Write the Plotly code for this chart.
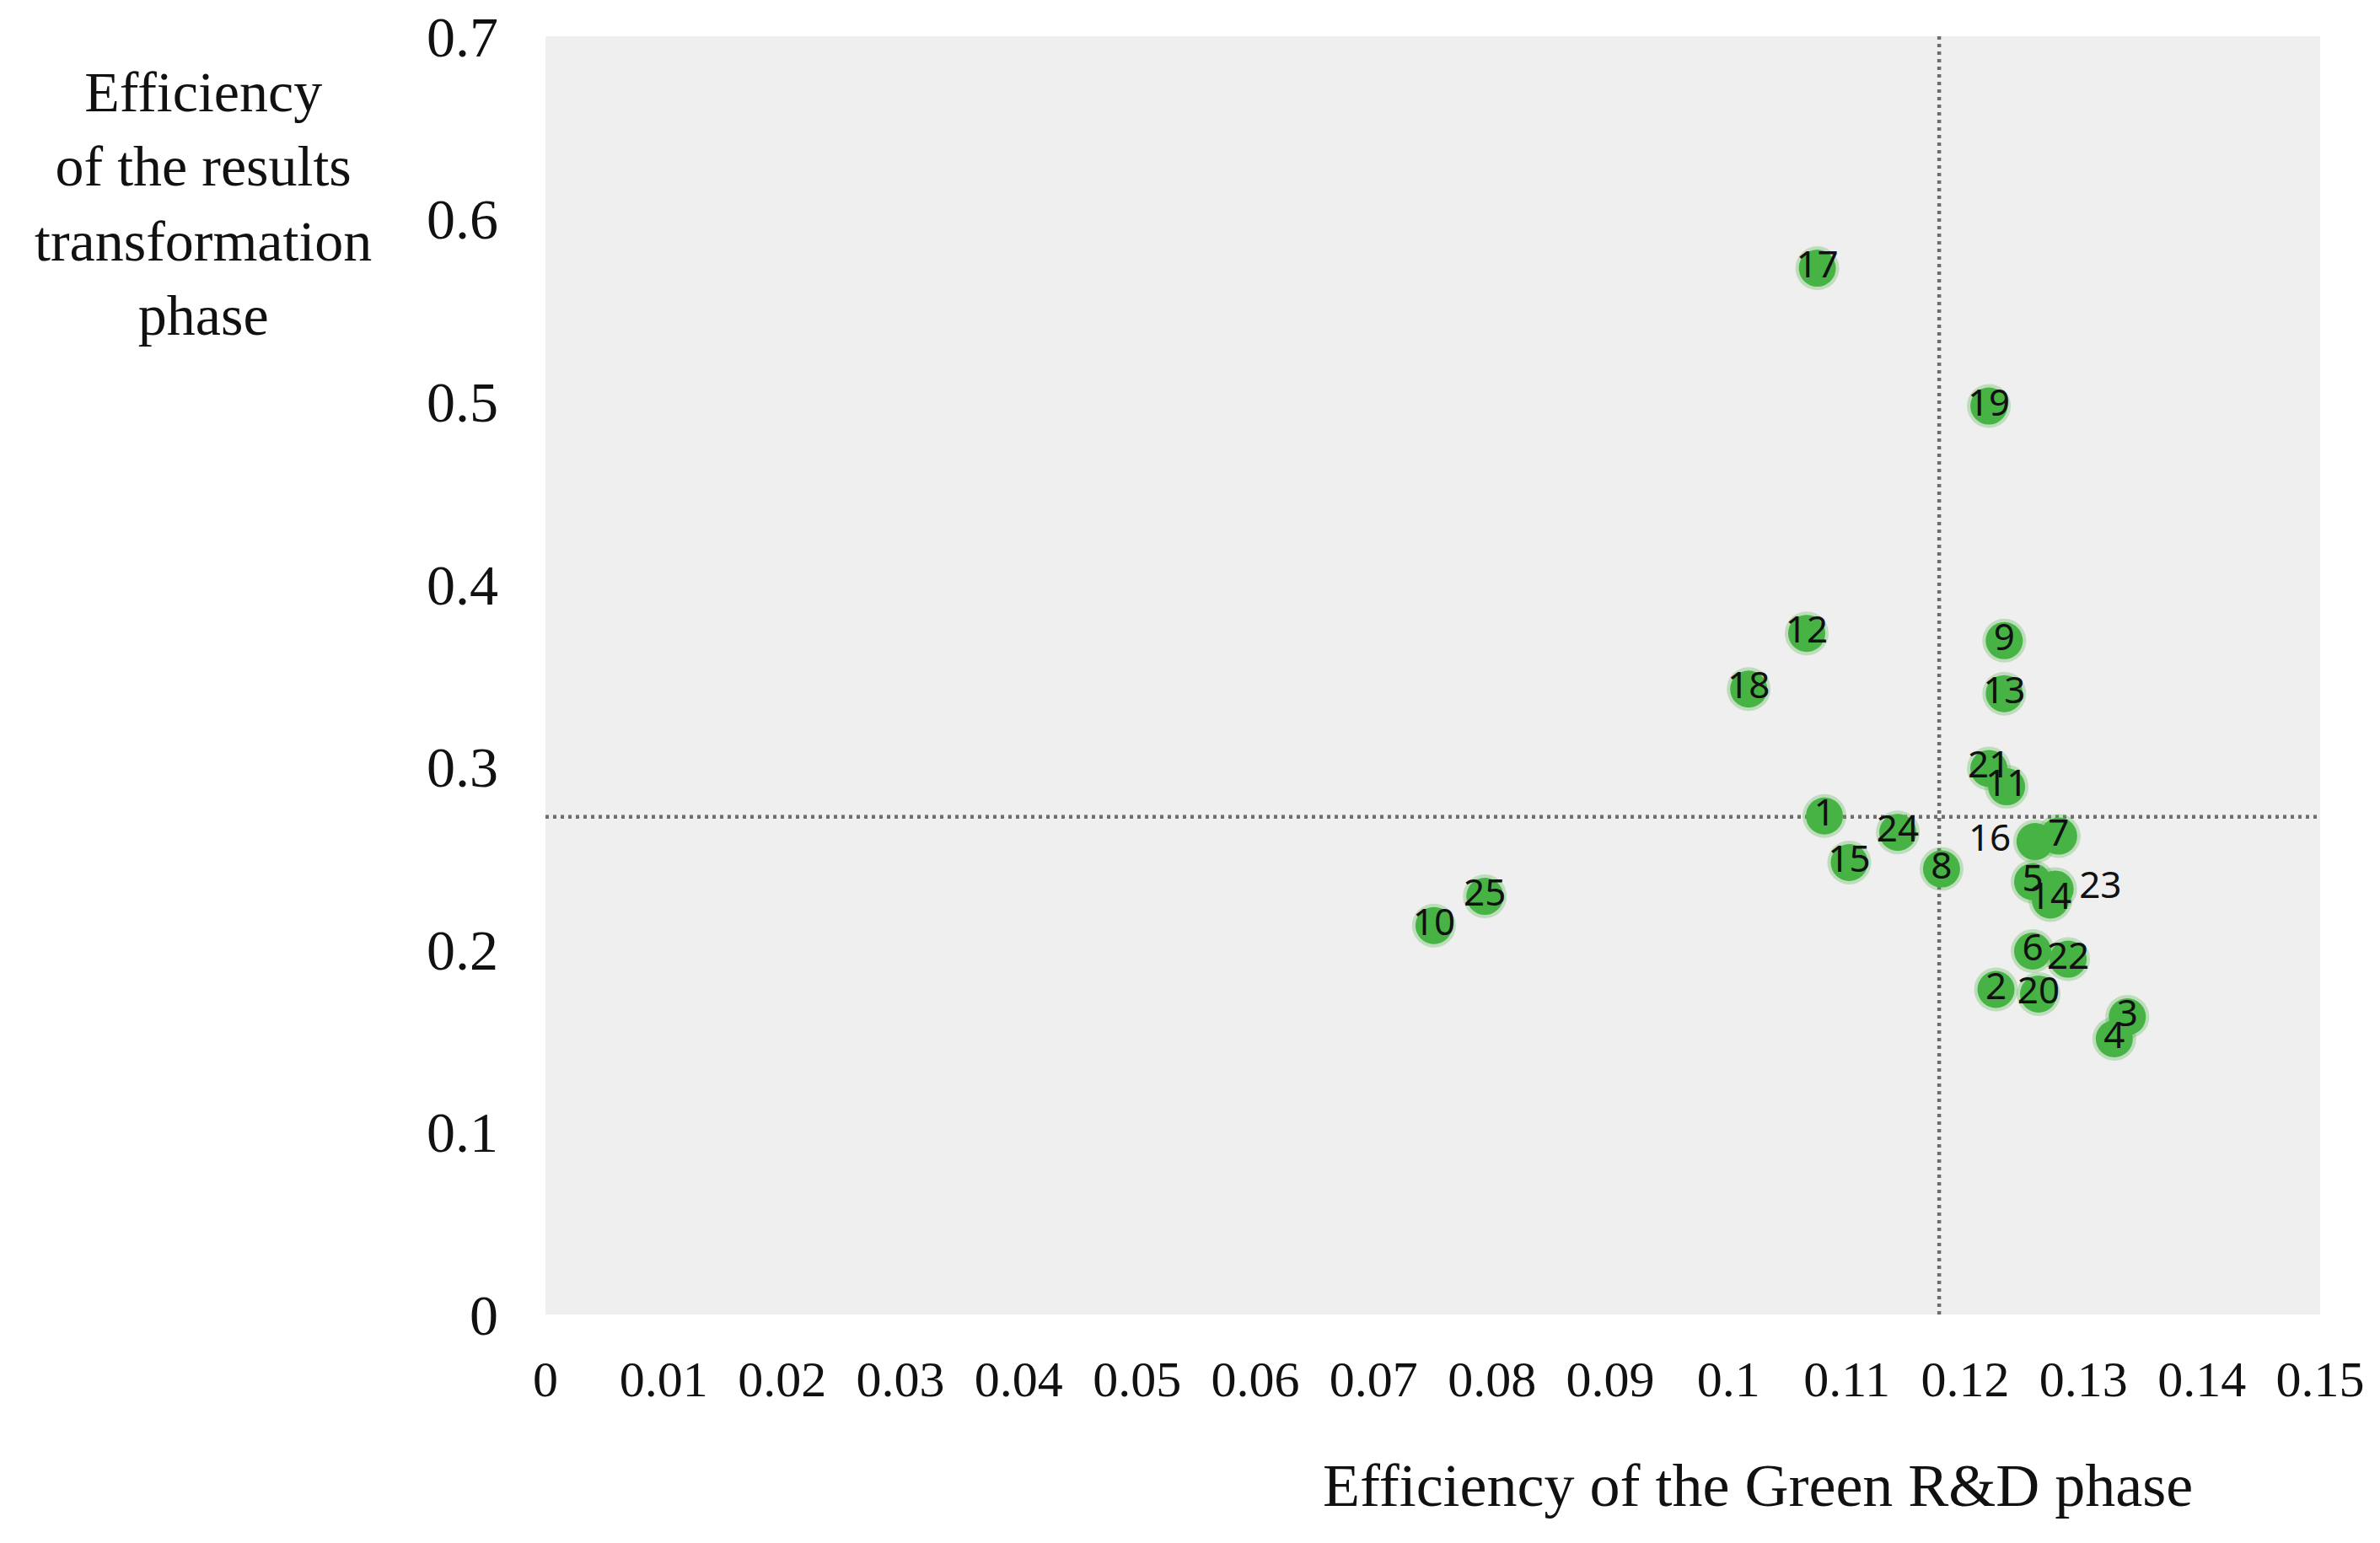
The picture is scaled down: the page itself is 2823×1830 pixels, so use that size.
import plotly.graph_objects as go

ids = ["1","2","3","4","5","6","7","8","9","10","11","12","13","14","15","16","17","18","19","20","21","22","23","24","25"]
green_rd = [0.1081,0.1226,0.1337,0.1326,0.1257,0.1257,0.1279,0.1180,0.1233,0.0751,0.1235,0.1066,0.1233,0.1272,0.1102,0.1259,0.1075,0.1017,0.1220,0.1262,0.1220,0.1287,0.1276,0.1143,0.0794]
transform = [0.273,0.178,0.163,0.151,0.237,0.199,0.262,0.244,0.369,0.213,0.289,0.373,0.340,0.227,0.2475,0.259,0.573,0.3425,0.4975,0.1755,0.299,0.1946,0.233,0.264,0.229]
label_pos = ["middle center"] * 25
label_pos[15] = "middle left"   # 16
label_pos[22] = "middle right"  # 23

mean_x = 0.1178
mean_y = 0.2725

x_ticks = [0,0.01,0.02,0.03,0.04,0.05,0.06,0.07,0.08,0.09,0.1,0.11,0.12,0.13,0.14,0.15]
x_tick_text = ["0","0.01","0.02","0.03","0.04","0.05","0.06","0.07","0.08","0.09","0.1","0.11","0.12","0.13","0.14","0.15"]
y_ticks = [0,0.1,0.2,0.3,0.4,0.5,0.6,0.7]
y_tick_text = ["0","0.1","0.2","0.3","0.4","0.5","0.6","0.7"]

fig = go.Figure()
# soft halo for blurred marker edges
fig.add_trace(go.Scatter(x=green_rd, y=transform, mode="markers",
                         marker=dict(size=52, color="rgba(72,180,70,0.30)", line=dict(width=0)),
                         hoverinfo="skip", showlegend=False))
fig.add_trace(go.Scatter(x=green_rd, y=transform, mode="markers+text",
                         marker=dict(size=44, color="#48b345", line=dict(width=0)),
                         text=ids, textposition=label_pos,
                         textfont=dict(family="Noto Sans, Liberation Sans, sans-serif", size=44, color="#111111"),
                         cliponaxis=False, showlegend=False))

fig.add_shape(type="line", xref="x", yref="y", x0=mean_x, x1=mean_x, y0=0, y1=0.7,
              line=dict(color="#6e6e6e", width=4.5, dash="4px,5px"), layer="below")
fig.add_shape(type="line", xref="x", yref="y", x0=0, x1=0.15, y0=mean_y, y1=mean_y,
              line=dict(color="#6e6e6e", width=4.5, dash="4px,5px"), layer="below")

fig.update_layout(
    width=2815, height=1822,
    margin=dict(l=639, r=71, t=35, b=271),
    paper_bgcolor="white", plot_bgcolor="#efefef",
    font=dict(family="Liberation Serif, Times New Roman, serif", color="#111111"),
    xaxis=dict(range=[0, 0.15], tickvals=x_ticks, ticktext=x_tick_text,
               showgrid=False, zeroline=False, showline=False, automargin=False,
               tickfont=dict(size=60), ticklabelstandoff=36, ticklabeloverflow="allow"),
    yaxis=dict(range=[0, 0.7], tickvals=y_ticks, ticktext=y_tick_text,
               showgrid=False, zeroline=False, showline=False, automargin=False,
               tickfont=dict(size=68), ticklabelstandoff=55, ticklabeloverflow="allow"),
    annotations=[
        dict(text="Efficiency<br>of the results<br>transformation<br>phase", xref="paper", yref="paper",
             x=-0.193, y=0.869, xanchor="center", yanchor="middle", showarrow=False,
             font=dict(size=68), align="center"),
        dict(text="Efficiency of the Green R&D phase", xref="paper", yref="paper",
             x=0.683, y=-0.134, xanchor="center", yanchor="middle", showarrow=False,
             font=dict(size=72)),
    ],
)

fig.write_html("out.html")
